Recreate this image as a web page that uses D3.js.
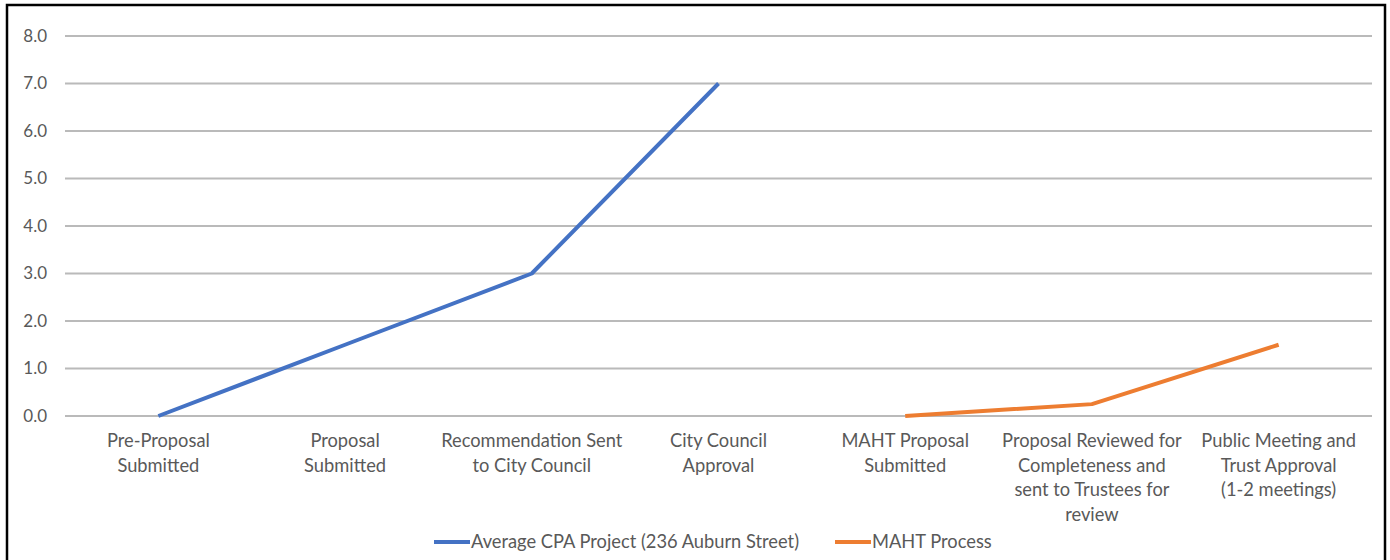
<!DOCTYPE html>
<html><head><meta charset="utf-8">
<script src="https://cdn.jsdelivr.net/npm/d3@7"></script>
<style>
html,body{margin:0;padding:0;background:#fff;}
svg{display:block;}
</style></head>
<body>
<script>
const categories = [
  "Pre-Proposal\nSubmitted",
  "Proposal\nSubmitted",
  "Recommendation Sent\nto City Council",
  "City Council\nApproval",
  "MAHT Proposal\nSubmitted",
  "Proposal Reviewed for\nCompleteness and\nsent to Trustees for\nreview",
  "Public Meeting and\nTrust Approval\n(1-2 meetings)"
];
const cpaValues = [0, 1.5, 3, 7, null, null, null];
const mahtValues = [null, null, null, null, 0, 0.25, 1.5];
const seriesNames = ["Average CPA Project (236 Auburn Street)", "MAHT Process"];
const yTicks = [0, 1, 2, 3, 4, 5, 6, 7, 8];

(function () {
const W = 1390, H = 560;
const svg = d3.select("body").append("svg").attr("width", W).attr("height", H);
const font = "Lato, 'Open Sans', sans-serif";
const textColor = "#595959";

svg.append("rect").attr("x", 7).attr("y", 5).attr("width", 1378).attr("height", 580)
  .attr("fill", "none").attr("stroke", "#000").attr("stroke-width", 2.5);

const mL = 65, mR = 1372, mT = 36, mB = 416;
const x = d3.scalePoint().domain(d3.range(categories.length)).range([mL, mR]).padding(0.5);
const y = d3.scaleLinear().domain([0, 8]).range([mB, mT]);

svg.append("g").selectAll("line").data(yTicks).join("line")
  .attr("x1", mL).attr("x2", mR)
  .attr("y1", d => y(d)).attr("y2", d => y(d))
  .attr("stroke", "#bababa").attr("stroke-width", 2);

const yAxis = d3.axisLeft(y).tickValues(yTicks).tickFormat(d3.format(".1f")).tickSize(0).tickPadding(0);
const ya = svg.append("g").attr("transform", `translate(47,0)`).call(yAxis);
ya.select(".domain").remove();
ya.selectAll("text").attr("fill", textColor).style("font-family", font).style("font-size", "17px");

const xg = svg.append("g");
categories.forEach((c, i) => {
  const t = xg.append("text").attr("x", x(i)).attr("y", 447)
    .attr("text-anchor", "middle").attr("fill", textColor)
    .style("font-family", font).style("font-size", "18.3px");
  c.split("\n").forEach((ln, j) => {
    t.append("tspan").attr("x", x(i)).attr("dy", j === 0 ? 0 : 24.5).text(ln);
  });
});

const line = d3.line().defined(d => d[1] != null).x(d => x(d[0])).y(d => y(d[1]));
const colors = ["#4472C4", "#ED7D31"];
[cpaValues, mahtValues].forEach((vals, k) => {
  svg.append("path").datum(vals.map((v, i) => [i, v]))
    .attr("d", line).attr("fill", "none").attr("stroke", colors[k])
    .attr("stroke-width", 4).attr("stroke-linejoin", "round");
});

const legendX = [434, 835];
seriesNames.forEach((n, k) => {
  const g = svg.append("g");
  g.append("line").attr("x1", legendX[k]).attr("x2", legendX[k] + 36)
    .attr("y1", 542).attr("y2", 542).attr("stroke", colors[k]).attr("stroke-width", 4);
  g.append("text").attr("x", legendX[k] + 37).attr("y", 548).attr("fill", textColor)
    .style("font-family", font).style("font-size", "18.3px").text(n);
});
})();
</script>
</body></html>
